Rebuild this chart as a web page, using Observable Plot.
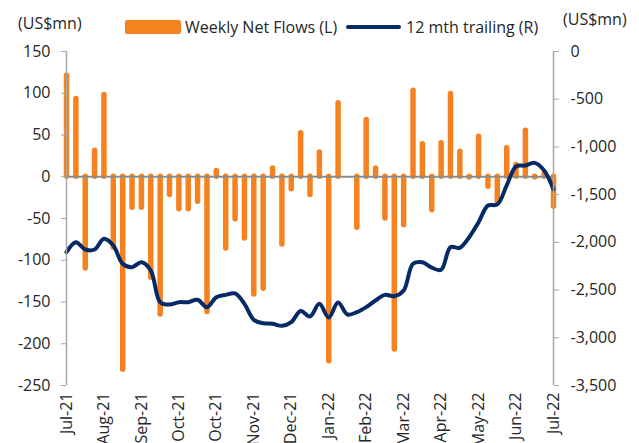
<!DOCTYPE html>
<html>
<head>
<meta charset="utf-8">
<script src="https://cdn.jsdelivr.net/npm/d3@7"></script>
<script src="https://cdn.jsdelivr.net/npm/@observablehq/plot@0.6"></script>
<style>
  html, body { margin: 0; padding: 0; background: #fff; overflow: hidden; }
  #wrap { position: relative; width: 639px; height: 443px; font-family: "Open Sans", sans-serif; color: #262626; }
  .unit { position: absolute; font-size: 16px; line-height: 1; white-space: nowrap; }
  .leg { position: absolute; font-size: 16px; line-height: 1; white-space: nowrap; }
</style>
</head>
<body>
<div id="wrap">
  <div class="unit" style="left:18px; top:15px;">(US$mn)</div>
  <div class="unit" style="left:563px; top:11px;">(US$mn)</div>
  <div class="leg" style="left:125px; top:20px; width:56px; height:14px; background:#F5821F; border-radius:2px;"></div>
  <div class="leg" style="left:185px; top:19px;">Weekly Net Flows (L)</div>
  <div class="leg" style="left:346px; top:25px; width:55px; height:3.5px; background:#062A66; border-radius:2px;"></div>
  <div class="leg" style="left:406px; top:19px;">12 mth trailing (R)</div>
</div>
<script>
// Weekly net flows (US$mn, left axis), one per week
const weeklyFlows = [121, 93, -110, 31, 98, -85, -231, -37, -37, -121,
  -165, -22, -39, -39, -30, -162, 7, -86, -51, -74,
  -141, -134, 10, -81, -15, 52, -22, 29, -221, 88,
  0, -61, 68, 10, -50, -207, -58, 103, 39, -40,
  40, 99, 30, -1, 48, -12, -30, 34, 14, 55,
  -1, 3, -36];
// 12 month trailing (US$mn, right axis)
const trailing12m = [-2103, -1998, -2075, -2075, -1963, -2033, -2225, -2260, -2208, -2295,
  -2627, -2651, -2627, -2627, -2602, -2679, -2575, -2550, -2535, -2644,
  -2812, -2847, -2854, -2875, -2836, -2719, -2777, -2644, -2788, -2630,
  -2756, -2732, -2679, -2609, -2550, -2564, -2504, -2225, -2208, -2265,
  -2288, -2051, -2057, -1946, -1789, -1614, -1603, -1404, -1205, -1195,
  -1167, -1247, -1445];
// x tick labels (every 4th week)
const xTickLabels = ["Jul-21", "Aug-21", "Sep-21", "Oct-21", "Oct-21", "Nov-21", "Dec-21",
  "Jan-22", "Feb-22", "Mar-22", "Apr-22", "May-22", "Jun-22", "Jul-22"];
const leftTicks = [150, 100, 50, 0, -50, -100, -150, -200, -250];
const rightTicks = [0, -500, -1000, -1500, -2000, -2500, -3000, -3500];

const orange = "#F5821F";
const navy = "#062A66";
const axisGray = "#A6A6A6";

const lMin = -250, lMax = 150, rMin = -3500, rMax = 0;
const toLeft = v => lMin + (v - rMin) * (lMax - lMin) / (rMax - rMin);
const toRight = l => rMin + (l - lMin) * (rMax - rMin) / (lMax - lMin);
const fmt = v => Math.round(v).toLocaleString("en-US");

const bars = weeklyFlows.map((v, i) => ({i, v})).filter(d => d.v !== 0);
const line = trailing12m.map((v, i) => ({i, v}));
const n = weeklyFlows.length;
const xTickIdx = xTickLabels.map((_, k) => k * 4);
const xLabelMap = new Map(xTickIdx.map((t, k) => [t, xTickLabels[k]]));

const chart = Plot.plot({
  width: 639,
  height: 443,
  marginTop: 51,
  marginBottom: 58,
  marginLeft: 66,
  marginRight: 86,
  x: {domain: [0, n - 1], axis: null},
  y: {domain: [lMin, lMax], axis: null},
  style: {fontFamily: "Open Sans", fontSize: "16px", color: "#262626", background: "transparent"},
  marks: [
    Plot.ruleX(bars, {x: "i", y1: 0, y2: "v", stroke: orange, strokeWidth: 5.5, strokeLinecap: "round"}),
    Plot.ruleY([0], {stroke: "#8C8C8C", strokeWidth: 2}),
    Plot.lineY(line, {x: "i", y: d => toLeft(d.v), curve: "catmull-rom", stroke: navy, strokeWidth: 4, strokeLinejoin: "round"}),
    Plot.ruleX([0, n - 1], {stroke: axisGray, strokeWidth: 1.5}),
    Plot.axisY({anchor: "left", ticks: leftTicks, tickSize: 5, tickPadding: 11, tickFormat: fmt, stroke: axisGray, fill: "#262626", label: null}),
    Plot.axisY({anchor: "right", ticks: rightTicks.map(toLeft), tickSize: 5, tickPadding: 12, tickFormat: d => fmt(toRight(d)), stroke: axisGray, fill: "#262626", label: null}),
    Plot.axisX({ticks: xTickIdx, tickFormat: d => xLabelMap.get(d), tickRotate: -90, tickSize: 0, tickPadding: 7, fill: "#262626", label: null})
  ]
});
chart.style.position = "absolute";
chart.style.left = "0px";
chart.style.top = "0px";
document.getElementById("wrap").prepend(chart);
</script>
</body>
</html>
